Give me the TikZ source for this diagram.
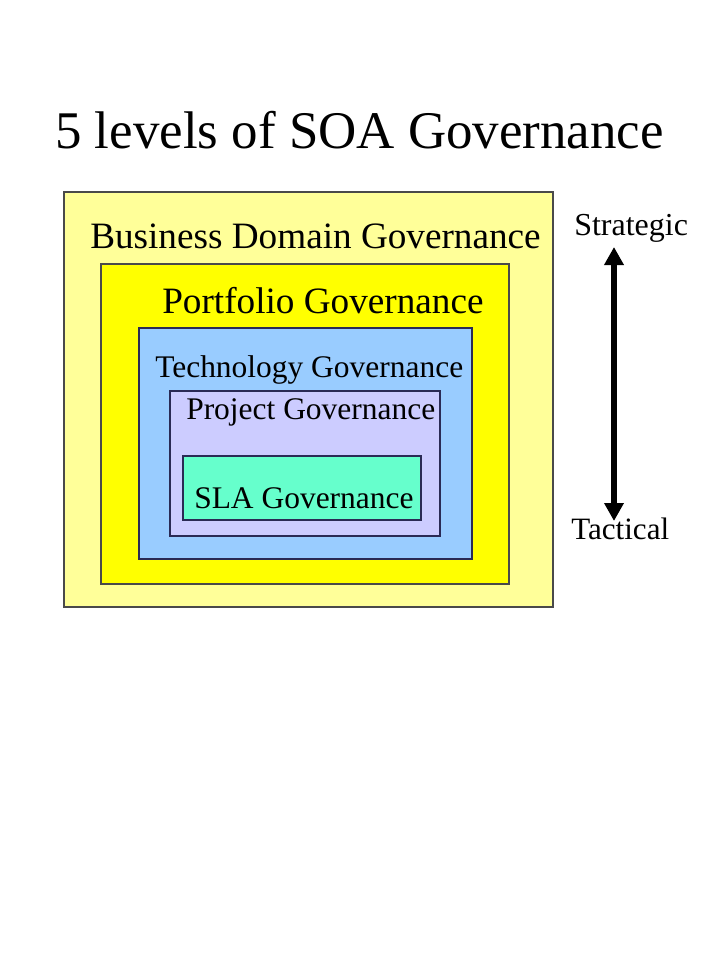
\documentclass[tikz,border=0pt]{standalone}
\usepackage{fontspec}
\setmainfont{Liberation Serif}
\usetikzlibrary{arrows.meta}
\definecolor{lyel}{HTML}{FFFF99}
\definecolor{yel}{HTML}{FFFF00}
\definecolor{lblue}{HTML}{99CCFF}
\definecolor{lav}{HTML}{CCCCFF}
\definecolor{aqua}{HTML}{66FFCC}
\definecolor{edge}{HTML}{4A4A4A}
\definecolor{edgeb}{HTML}{2A2A55}
\begin{document}
\begin{tikzpicture}[x=0.75pt,y=-0.75pt,
  lvl/.style={draw=edge,line width=0.8pt},
  lbl/.style={anchor=base west,inner sep=0pt,text=black},
  big/.style={lbl,font=\fontsize{27.9pt}{30pt}\selectfont},
  mid/.style={lbl,font=\fontsize{23.6pt}{26pt}\selectfont},
  side/.style={lbl,font=\fontsize{24pt}{26pt}\selectfont}]
\useasboundingbox (0,0) rectangle (720,960);
\fill[white] (0,0) rectangle (720,960);
% title
\node[lbl,font=\fontsize{39.7pt}{44pt}\selectfont] (title) at (55,148) {5 levels of SOA Governance};
% nested boxes
\draw[lvl,fill=lyel] (64,192) rectangle (553,607);
\draw[lvl,fill=yel] (101,264) rectangle (509,584);
\draw[lvl,draw=edgeb,fill=lblue] (139,328) rectangle (472,559);
\draw[lvl,draw=edgeb,fill=lav] (170,391) rectangle (440,536);
\draw[lvl,draw=edgeb,fill=aqua] (183,456) rectangle (421,520);
% labels
\node[big] (bdg) at (90,248) {Business Domain Governance};
\node[big] (pg) at (162,313) {Portfolio Governance};
\node[mid] (tg) at (155,377) {Technology Governance};
\node[mid] (prg) at (186,419) {Project Governance};
\node[mid] (sla) at (194,508) {SLA Governance};
% side scale
\node[side] (strat) at (574,235) {Strategic};
\node[side,font=\fontsize{23.3pt}{26pt}\selectfont] (tact) at (571,539) {Tactical};
\coordinate (atop) at (614,247);
\coordinate (abot) at (614,521);
\draw[line width=4.8pt,{Triangle[length=13.5pt,width=14pt]}-{Triangle[length=13.5pt,width=14pt]}] (atop) -- (abot);
\end{tikzpicture}
\end{document}
